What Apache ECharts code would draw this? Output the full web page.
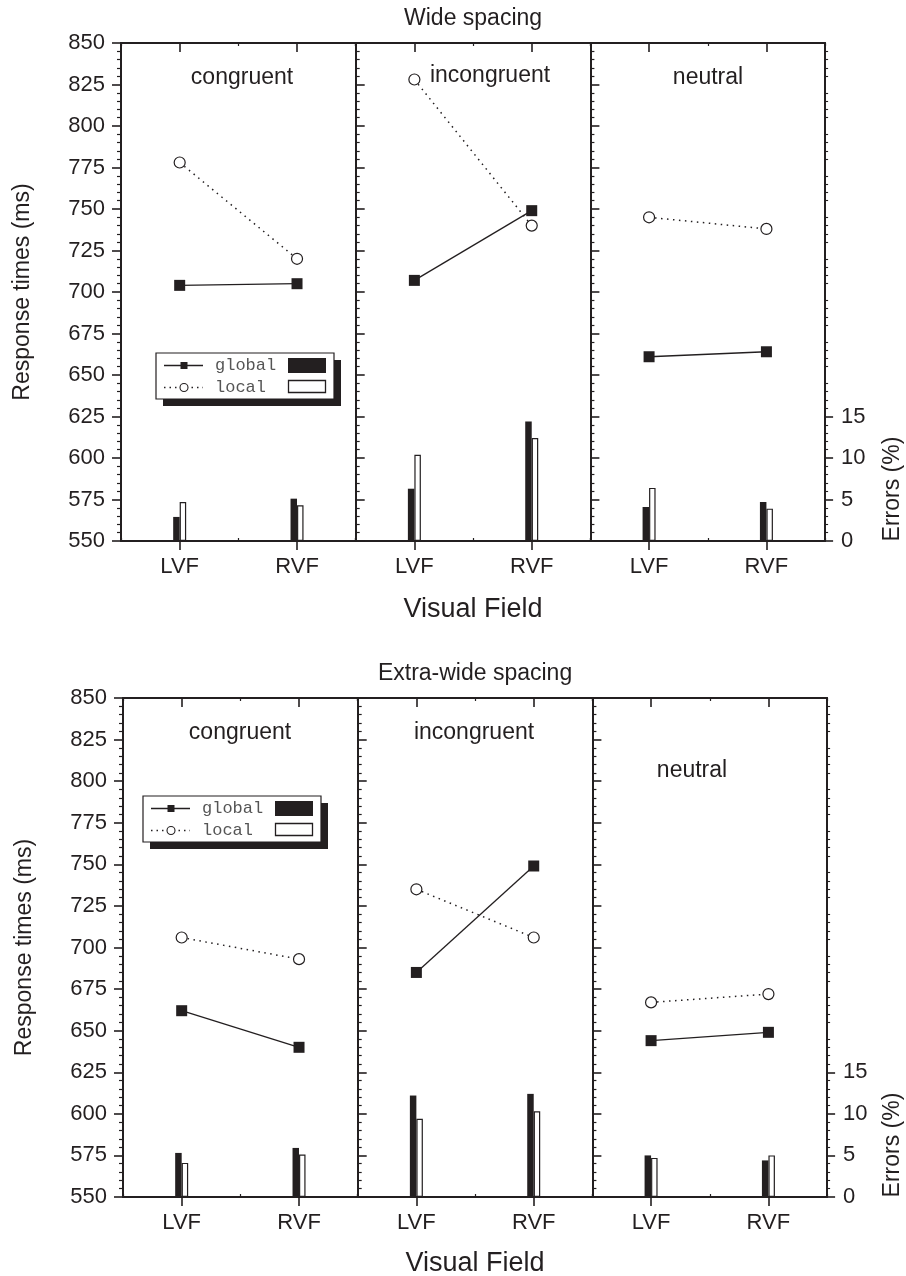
<!DOCTYPE html>
<html><head><meta charset="utf-8">
<script src="https://cdn.jsdelivr.net/npm/echarts@6/dist/echarts.min.js"></script>
<style>html,body{margin:0;padding:0;background:#fff}#c{width:906px;height:1276px}</style>
</head><body><div id="c"></div>
<script>
// ---- data ----
const fields = ['LVF', 'RVF'];
const conditions = ['congruent', 'incongruent', 'neutral'];
const panelTitles = ['Wide spacing', 'Extra-wide spacing'];
const seriesNames = ['global', 'local'];
const rtAxis = { min: 550, max: 850, step: 25 };
const errAxis = { min: 0, max: 60, step: 5 };
const errTickLabels = [0, 5, 10, 15];
const xTitle = 'Visual Field';
const yTitle = 'Response times (ms)';
const errTitle = 'Errors (%)';

// Wide spacing: [LVF, RVF] per condition
const wideGlobalRT  = [[704, 705], [707, 749], [661, 664]];
const wideLocalRT   = [[778, 720], [828, 740], [745, 738]];
const wideGlobalErr = [[2.9, 5.1], [6.3, 14.4], [4.1, 4.7]];
const wideLocalErr  = [[4.7, 4.3], [10.4, 12.4], [6.4, 3.9]];
// Extra-wide spacing
const extraGlobalRT  = [[662, 640], [685, 749], [644, 649]];
const extraLocalRT   = [[706, 693], [735, 706], [667, 672]];
const extraGlobalErr = [[5.3, 5.9], [12.2, 12.4], [5.0, 4.4]];
const extraLocalErr  = [[4.1, 5.1], [9.4, 10.3], [4.7, 5.0]];

// ---- layout / style ----
const INK = '#231f20';
const FONT = "'Liberation Sans', Arial, sans-serif";
const W = 234.7;
const panels = [
  { top: 43, height: 498, left: 121, gRT: wideGlobalRT, lRT: wideLocalRT, gE: wideGlobalErr, lE: wideLocalErr,
    titleY: 19, labelPos: [[242, 78], [490, 76], [708, 78]], legend: [156, 353], fieldY: 610 },
  { top: 698, height: 499, left: 123, gRT: extraGlobalRT, lRT: extraLocalRT, gE: extraGlobalErr, lE: extraLocalErr,
    titleY: 674, labelPos: [[240, 733], [474, 733], [692, 771]], legend: [143, 796], fieldY: 1264 }
];

const grids = [], xAxes = [], yAxes = [], series = [], graphics = [];

function legendGraphic(x0, y0) {
  const r1 = y0 + 12.5, r2 = y0 + 34.5;
  return { type: 'group', z: 100, children: [
    { type: 'rect', shape: { x: x0 + 7, y: y0 + 7, width: 178, height: 46 }, style: { fill: INK } },
    { type: 'rect', shape: { x: x0, y: y0, width: 178, height: 46 }, style: { fill: '#fff', stroke: INK, lineWidth: 1.2 } },
    { type: 'line', shape: { x1: x0 + 8, y1: r1, x2: x0 + 47, y2: r1 }, style: { stroke: INK, lineWidth: 1.3 } },
    { type: 'rect', shape: { x: x0 + 24.5, y: r1 - 3.5, width: 7, height: 7 }, style: { fill: INK } },
    { type: 'text', x: x0 + 59, y: r1, style: { text: seriesNames[0], font: "17px 'Liberation Mono', monospace", fill: '#555', verticalAlign: 'middle' } },
    { type: 'rect', shape: { x: x0 + 132, y: y0 + 5, width: 38, height: 15 }, style: { fill: INK } },
    { type: 'line', shape: { x1: x0 + 8, y1: r2, x2: x0 + 47, y2: r2 }, style: { stroke: INK, lineWidth: 1.3, lineDash: [1.5, 4] } },
    { type: 'circle', shape: { cx: x0 + 28, cy: r2, r: 4 }, style: { fill: '#fff', stroke: INK, lineWidth: 1.1 } },
    { type: 'text', x: x0 + 59, y: r2, style: { text: seriesNames[1], font: "17px 'Liberation Mono', monospace", fill: '#555', verticalAlign: 'middle' } },
    { type: 'rect', shape: { x: x0 + 132.5, y: y0 + 27.5, width: 37, height: 12 }, style: { fill: '#fff', stroke: INK, lineWidth: 1.3 } }
  ]};
}

panels.forEach((p, pi) => {
  // panel title and x title
  graphics.push({ type: 'text', x: p.left + 1.5 * W, y: p.titleY, z: 100,
    style: { text: panelTitles[pi], font: '23px ' + FONT, fill: INK, align: 'center', verticalAlign: 'middle' } });
  graphics.push({ type: 'text', x: p.left + 1.5 * W, y: p.fieldY, z: 100,
    style: { text: xTitle, font: '27px ' + FONT, fill: INK, align: 'center', verticalAlign: 'middle' } });
  graphics.push({ type: 'text', x: 893, y: p.top + p.height - 52, rotation: Math.PI / 2, z: 100,
    style: { text: errTitle, font: '23px ' + FONT, fill: INK, align: 'center', verticalAlign: 'middle' } });
  graphics.push(legendGraphic(p.legend[0], p.legend[1]));

  for (let c = 0; c < 3; c++) {
    const gi = grids.length;
    grids.push({ left: p.left + c * W, top: p.top, width: W, height: p.height });
    graphics.push({ type: 'text', x: p.labelPos[c][0], y: p.labelPos[c][1], z: 100,
      style: { text: conditions[c], font: '23px ' + FONT, fill: INK, align: 'center', verticalAlign: 'middle' } });

    const xb = xAxes.length;
    const lineAx = { show: true, lineStyle: { color: INK, width: 2 } };
    xAxes.push({ type: 'category', gridIndex: gi, data: fields, position: 'bottom', boundaryGap: true,
      axisLine: lineAx,
      axisTick: { show: true, alignWithLabel: true, inside: false, length: 9, lineStyle: { color: INK, width: 1.6 } },
      axisLabel: { show: true, color: INK, fontSize: 22, fontFamily: FONT, margin: 15 },
      splitLine: { show: false } });
    xAxes.push({ type: 'category', gridIndex: gi, data: fields, position: 'top', boundaryGap: true,
      axisLine: lineAx,
      axisTick: { show: true, alignWithLabel: true, inside: true, length: 9, lineStyle: { color: INK, width: 1.6 } },
      axisLabel: { show: false }, splitLine: { show: false } });
    ['bottom', 'top'].forEach(pos => xAxes.push({ type: 'category', gridIndex: gi, data: fields, position: pos, boundaryGap: true,
      axisLine: { show: false },
      axisTick: { show: true, alignWithLabel: false, inside: true, interval: 0, length: 3, lineStyle: { color: INK, width: 1.2 } },
      axisLabel: { show: false }, splitLine: { show: false } }));

    const yb = yAxes.length;
    const first = c === 0;
    yAxes.push({ type: 'value', gridIndex: gi, position: 'left', min: rtAxis.min, max: rtAxis.max, interval: rtAxis.step,
      name: first ? yTitle : '', nameLocation: 'middle', nameRotate: 90, nameGap: 87,
      nameTextStyle: { color: INK, fontSize: 23, fontFamily: FONT },
      axisLine: { show: true, lineStyle: { color: INK, width: 2 } },
      axisTick: { show: true, inside: !first, length: 9, lineStyle: { color: INK, width: 1.6 } },
      minorTick: { show: true, splitNumber: 5, length: 4, lineStyle: { color: INK, width: 1.2 } },
      axisLabel: { show: first, color: INK, fontSize: 22, fontFamily: FONT, margin: 16 },
      splitLine: { show: false }, minorSplitLine: { show: false } });
    const last = c === 2;
    yAxes.push({ type: 'value', gridIndex: gi, position: 'right', min: errAxis.min, max: errAxis.max, interval: errAxis.step,
      show: last,
      axisLine: { show: true, lineStyle: { color: INK, width: 2 } },
      axisTick: { show: true, inside: false, length: 8, customValues: errTickLabels, lineStyle: { color: INK, width: 1.6 } },
      minorTick: { show: true, splitNumber: 5, length: 3, lineStyle: { color: INK, width: 1.1 } },
      axisLabel: { show: true, customValues: errTickLabels, formatter: v => (v <= 15 ? String(v) : ''),
        color: INK, fontSize: 22, fontFamily: FONT, margin: 16 },
      splitLine: { show: false }, minorSplitLine: { show: false } });

    series.push({ type: 'bar', name: seriesNames[0] + ' errors', xAxisIndex: xb, yAxisIndex: yb + 1,
      data: p.gE[c], barWidth: 6.5, barGap: '0%', itemStyle: { color: INK }, z: 2, silent: true });
    series.push({ type: 'bar', name: seriesNames[1] + ' errors', xAxisIndex: xb, yAxisIndex: yb + 1,
      data: p.lE[c], barWidth: 6.5, barGap: '0%', itemStyle: { color: '#fff', borderColor: INK, borderWidth: 1.2 }, z: 2, silent: true });
    series.push({ type: 'line', name: seriesNames[0], xAxisIndex: xb, yAxisIndex: yb, data: p.gRT[c],
      symbol: 'rect', symbolSize: 11, lineStyle: { color: INK, width: 1.3 }, itemStyle: { color: INK },
      z: 4, silent: true, animation: false });
    series.push({ type: 'line', name: seriesNames[1], xAxisIndex: xb, yAxisIndex: yb, data: p.lRT[c],
      symbol: 'circle', symbolSize: 11, lineStyle: { color: INK, width: 1.5, type: [1.5, 4.5] },
      itemStyle: { color: '#fff', borderColor: INK, borderWidth: 1.2 }, z: 5, silent: true, animation: false });
  }
});

const chart = echarts.init(document.getElementById('c'), null, { renderer: 'canvas' });
chart.setOption({
  animation: false,
  backgroundColor: '#fff',
  grid: grids, xAxis: xAxes, yAxis: yAxes, series: series, graphic: graphics
});
</script></body></html>
